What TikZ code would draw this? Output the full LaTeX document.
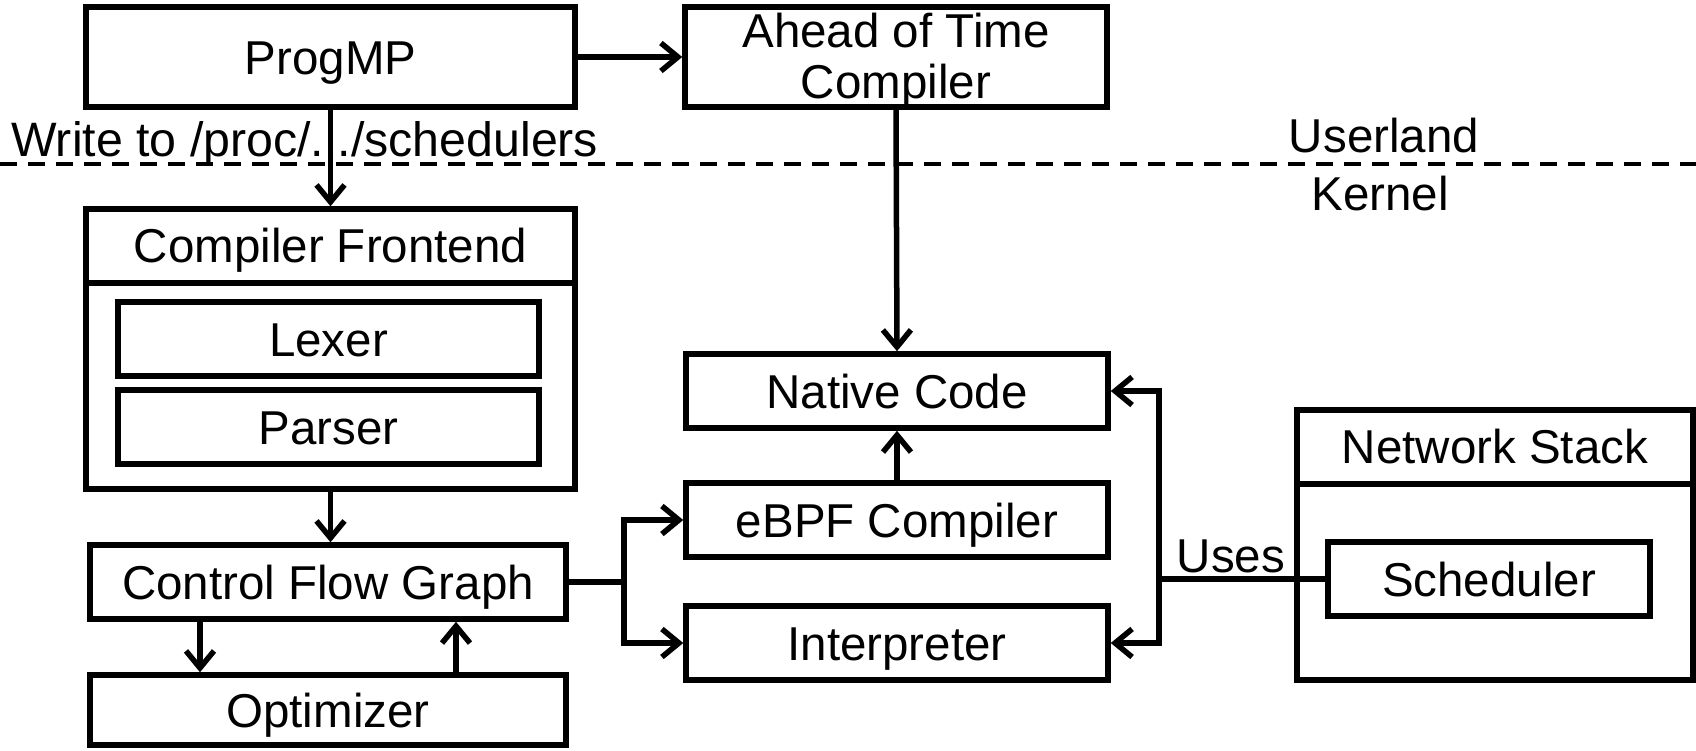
\documentclass[tikz,border=0pt]{standalone}
\usepackage{fontspec}
\setmainfont{Liberation Sans}
\usetikzlibrary{arrows.meta}
\begin{document}
\begin{tikzpicture}[x=1pt,y=-1pt,
  every node/.style={font=\fontsize{47.5}{51}\selectfont},
  box/.style={draw, line width=5.5pt, rectangle, inner sep=0pt, text height=34pt, text depth=0pt},
  lbl/.style={inner sep=0pt, anchor=base},
  conn/.style={line width=5.5pt},
  arr/.style={conn, -{Straight Barb[length=17pt,width=28pt,line width=5.5pt]}}]
\useasboundingbox (0,0) rectangle (1696,750);
% dashed separator
\coordinate (dl) at (0,164);
\coordinate (dr) at (1696,164);
\draw[line width=4.5pt, dash pattern=on 17pt off 11pt] (dl) -- (dr);
\node[lbl] (userland) at (1384,152) {Userland};
\node[lbl] (kernel) at (1380,210) {Kernel};
% boxes
\node[box, minimum width=489pt, minimum height=100pt] (progmp) at (330.5,57) {ProgMP};
\node[box, minimum width=422pt, minimum height=100pt] (aot) at (896,57) {};
\node[lbl] (aot1) at (896,47) {Ahead of Time};
\node[lbl] (aot2) at (896,98) {Compiler};
\node[lbl, anchor=base west, font=\fontsize{48.3}{51}\selectfont] (write) at (11,156) {Write to /proc/.../schedulers};
\node[box, minimum width=489pt, minimum height=280pt] (cf) at (330.5,349) {};
\coordinate (cfdl) at (85,283);
\draw[conn] (cf.west |- cfdl) -- (cf.east |- cfdl);
\node[box, draw=none] (cftitle) at (330.5,245.5) {Compiler Frontend};
\node[box, minimum width=421pt, minimum height=74pt] (lexer) at (328.5,339) {Lexer};
\node[box, minimum width=421pt, minimum height=74pt] (parser) at (328.5,427) {Parser};
\node[box, minimum width=476pt, minimum height=74pt] (cfg) at (328,582) {Control Flow Graph};
\node[box, minimum width=476pt, minimum height=70pt] (opt) at (328,710) {Optimizer};
\node[box, minimum width=422pt, minimum height=74pt] (native) at (897,391) {Native Code};
\node[box, minimum width=422pt, minimum height=74pt] (ebpf) at (897,520) {eBPF Compiler};
\node[box, minimum width=422pt, minimum height=74pt] (interp) at (897,643) {Interpreter};
\node[box, minimum width=396pt, minimum height=270pt] (ns) at (1495,545) {};
\coordinate (nsdl) at (1296,484);
\draw[conn] (ns.west |- nsdl) -- (ns.east |- nsdl);
\node[box, draw=none] (nstitle) at (1495,446.5) {Network Stack};
\node[box, minimum width=322pt, minimum height=74pt] (sched) at (1489,579) {Scheduler};
% connectors
\draw[arr] (progmp.east) -- (aot.west);
\draw[arr] (progmp.south) -- (cf.north);
\draw[arr] (aot.south) -- (native.north);
\draw[arr] (cf.south) -- (cf.south |- cfg.north);
\draw[arr] ([xshift=-128pt]cfg.south) -- ([xshift=-128pt]cfg.south |- opt.north);
\draw[arr] ([xshift=128pt]opt.north) -- ([xshift=128pt]opt.north |- cfg.south);
\coordinate (j1) at (624,582);
\draw[conn] (cfg.east) -- (j1);
\draw[arr] (j1) |- (ebpf.west);
\draw[arr] (j1) |- (interp.west);
\draw[arr] (ebpf.north) -- (native.south);
\coordinate (j2) at (1159,579);
\draw[conn] (sched.west) -- (j2);
\draw[arr] (j2) |- (native.east);
\draw[arr] (j2) |- (interp.east);
\node[lbl] (uses) at (1231,572) {Uses};
\end{tikzpicture}
\end{document}
